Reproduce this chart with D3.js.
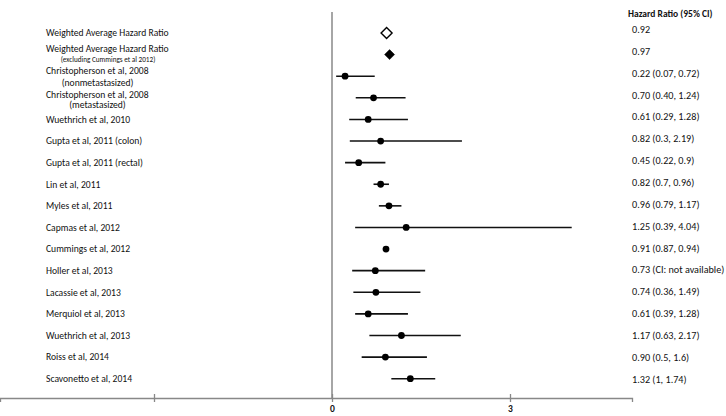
<!DOCTYPE html>
<html>
<head>
<meta charset="utf-8">
<script src="https://cdn.jsdelivr.net/npm/d3@7"></script>
<style>
  body { margin: 0; background: #fff; }
  svg { display: block; font-family: Carlito, Lato, sans-serif; }
  .lbl { font-size: 9.6px; fill: #111; }
  .sub { font-size: 7.2px; fill: #111; }
  .val { font-size: 10.2px; fill: #111; }
  .hdr { font-size: 9.5px; font-weight: bold; fill: #111; }
  .axis path, .axis line { stroke: #888; stroke-width: 1.3; }
  .axis text { font-size: 9.5px; font-weight: bold; fill: #111; font-family: Carlito, Lato, sans-serif; }
</style>
</head>
<body>
<div id="chart"></div>
<script>
// study names (second line, if any, goes in subLabels)
let studies = ["Weighted Average Hazard Ratio", "Weighted Average Hazard Ratio",
    "Christopherson et al, 2008", "Christopherson et al, 2008", "Wuethrich et al, 2010",
    "Gupta et al, 2011 (colon)", "Gupta et al, 2011 (rectal)", "Lin et al, 2011",
    "Myles et al, 2011", "Capmas et al, 2012", "Cummings et al, 2012", "Holler et al, 2013",
    "Lacassie et al, 2013", "Merquiol et al, 2013", "Wuethrich et al, 2013",
    "Roiss et al, 2014", "Scavonetto et al, 2014"]
let subLabels = ["", "(excluding Cummings et al 2012)", "(nonmetastasized)", "(metastasized)",
    "", "", "", "", "", "", "", "", "", "", "", "", ""]
let hr = [0.92, 0.97, 0.22, 0.70, 0.61, 0.82, 0.45, 0.82, 0.96, 1.25, 0.91, 0.73, 0.74, 0.61, 1.17, 0.90, 1.32]
// CI ends as drawn (Holler has no CI, the line is read off the picture)
let ciLow = [null, null, 0.07, 0.40, 0.29, 0.3, 0.22, 0.7, 0.79, 0.39, 0.87, 0.34, 0.36, 0.39, 0.63, 0.5, 1]
let ciHigh = [null, null, 0.72, 1.24, 1.28, 2.19, 0.9, 0.96, 1.17, 4.04, 0.94, 1.57, 1.49, 1.28, 2.17, 1.6, 1.74]
let markerType = ["open", "filled", "dot", "dot", "dot", "dot", "dot", "dot", "dot", "dot", "dot", "dot", "dot", "dot", "dot", "dot", "dot"]
let valueText = ["0.92", "0.97", "0.22 (0.07, 0.72)", "0.70 (0.40, 1.24)", "0.61 (0.29, 1.28)",
    "0.82 (0.3, 2.19)", "0.45 (0.22, 0.9)", "0.82 (0.7, 0.96)", "0.96 (0.79, 1.17)",
    "1.25 (0.39, 4.04)", "0.91 (0.87, 0.94)", "0.73 (CI: not available)", "0.74 (0.36, 1.49)",
    "0.61 (0.39, 1.28)", "1.17 (0.63, 2.17)", "0.90 (0.5, 1.6)", "1.32 (1, 1.74)"]
let tickValues = [-3, 0, 3]
let tickLabels = ["", "0", "3"]

let width = 726, height = 416
let axisY = 398

// nudges for the two-line labels: [first line, second line]
let twoLine = {1: [-5.5, 5], 2: [-5.5, 6], 3: [-3.5, 7]}

let data = studies.map((s, i) => ({
    name: s, sub: subLabels[i], hr: hr[i], lo: ciLow[i], hi: ciHigh[i],
    type: markerType[i], text: valueText[i]
}))

let x = d3.scaleLinear().domain([0, 3]).range([332, 510])
let y = d3.scalePoint().domain(d3.range(data.length)).range([33, 378.7])
let yVal = d3.scalePoint().domain(d3.range(data.length)).range([29.5, 379])

let svg = d3.select("#chart").append("svg")
    .attr("width", width)
    .attr("height", height)

// x axis, line runs across the whole plotting band
let xAxisScale = x.copy().domain([x.invert(0), x.invert(632)]).range([0, 632])
let axis = svg.append("g")
    .attr("class", "axis")
    .attr("transform", "translate(0," + axisY + ")")
    .call(d3.axisBottom(xAxisScale).tickValues(tickValues)
        .tickFormat((d, i) => tickLabels[i]).tickSizeOuter(0).tickSize(4))
axis.selectAll(".tick line").attr("y1", -4).attr("y2", 4)
axis.selectAll(".tick text").attr("y", 7.5)

// line of no effect
svg.append("line")
    .attr("x1", x(0)).attr("x2", x(0))
    .attr("y1", 12).attr("y2", axisY)
    .attr("stroke", "#888")
    .attr("stroke-width", 1.5)

// CI whiskers
svg.selectAll("line.ci")
    .data(data.filter(d => d.lo != null))
    .enter()
    .append("line")
    .attr("class", "ci")
    .attr("x1", d => x(d.lo))
    .attr("x2", d => x(d.hi))
    .attr("y1", d => y(data.indexOf(d)))
    .attr("y2", d => y(data.indexOf(d)))
    .attr("stroke", "#111")
    .attr("stroke-width", 1.6)

// point estimates
svg.selectAll("circle.pt")
    .data(data.filter(d => d.type == "dot"))
    .enter()
    .append("circle")
    .attr("class", "pt")
    .attr("cx", d => x(d.hr))
    .attr("cy", d => y(data.indexOf(d)))
    .attr("r", 3.4)
    .attr("fill", "#000")

svg.selectAll("path.dia")
    .data(data.filter(d => d.type != "dot"))
    .enter()
    .append("path")
    .attr("class", "dia")
    .attr("transform", d => "translate(" + x(d.hr) + "," + y(data.indexOf(d)) + ")")
    .attr("d", d => d.type == "open" ? "M0,-5.5L5.5,0L0,5.5L-5.5,0Z" : "M0,-5L5,0L0,5L-5,0Z")
    .attr("fill", d => d.type == "open" ? "#fff" : "#000")
    .attr("stroke", "#000")
    .attr("stroke-width", d => d.type == "open" ? 1.4 : 0.5)

// study labels
svg.selectAll("text.lbl")
    .data(data)
    .enter()
    .append("text")
    .attr("class", "lbl")
    .attr("x", 46)
    .attr("y", (d, i) => y(i) + (d.sub ? twoLine[i][0] : 0))
    .attr("dy", "0.35em")
    .text(d => d.name)

svg.selectAll("text.sub")
    .data(data.filter(d => d.sub))
    .enter()
    .append("text")
    .attr("class", d => data.indexOf(d) == 1 ? "sub" : "lbl")
    .attr("x", d => data.indexOf(d) == 1 ? 108 : 97.5)
    .attr("y", d => y(data.indexOf(d)) + twoLine[data.indexOf(d)][1])
    .attr("dy", "0.35em")
    .attr("text-anchor", "middle")
    .text(d => d.sub)

// right column
svg.append("text")
    .attr("class", "hdr")
    .attr("x", 628)
    .attr("y", 14)
    .attr("dy", "0.35em")
    .text("Hazard Ratio (95% CI)")

svg.selectAll("text.val")
    .data(data)
    .enter()
    .append("text")
    .attr("class", "val")
    .attr("x", 632)
    .attr("y", (d, i) => yVal(i))
    .attr("dy", "0.35em")
    .text(d => d.text)
</script>
</body>
</html>
